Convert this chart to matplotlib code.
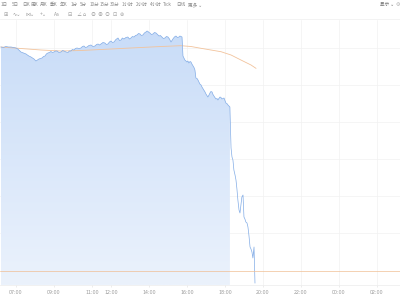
"""
Intraday price chart with toolbar strip, gradient area fill and average line.
"""
import numpy as np
import matplotlib
matplotlib.use('Agg')
import matplotlib.pyplot as plt
from matplotlib.colors import LinearSegmentedColormap

# === Colors ===
LINE_BLUE = '#82ace6'
FILL_TOP = '#c8dcf8'
FILL_BOT = '#ebf2fc'
AVG_ORANGE = '#f2c39c'
REF_ORANGE = '#f0bf94'
GRID = '#f2f2f2'
LABEL_GREY = '#9a9a9a'
CJK = ['Noto Sans CJK SC', 'DejaVu Sans']

# === Data: main session (hours, price) ===
session_t = [6.21, 6.34, 6.47, 6.60, 6.74, 6.87, 7.00, 7.10, 7.18, 7.26,
             7.40, 7.53, 7.60, 7.68, 7.79, 7.87, 7.95, 8.05, 8.13, 8.21,
             8.29, 8.37, 8.45, 8.53, 8.60, 8.68, 8.76, 8.84, 8.92, 9.00,
             9.08, 9.16, 9.26, 9.37, 9.45, 9.53, 9.63, 9.74, 9.81, 9.89,
             9.97, 10.05, 10.13, 10.21, 10.32, 10.42, 10.50, 10.58, 10.66, 10.74,
             10.84, 10.95, 11.05, 11.16, 11.24, 11.32, 11.40, 11.47, 11.58, 11.68,
             11.76, 11.84, 11.92, 12.00, 12.08, 12.16, 12.26, 12.37, 12.45, 12.53,
             12.60, 12.68, 12.79, 12.89, 12.97, 13.05, 13.13, 13.21, 13.29, 13.37,
             13.45, 13.53, 13.60, 13.68, 13.76, 13.84, 13.90, 13.95, 14.00, 14.05,
             14.13, 14.21, 14.29, 14.37, 14.45, 14.53, 14.60, 14.68, 14.76, 14.84,
             14.92, 15.00, 15.08, 15.16, 15.21, 15.26, 15.34, 15.42, 15.50, 15.58,
             15.63, 15.68, 15.74, 15.79, 15.84, 15.89, 15.95, 16.00, 16.05, 16.10,
             16.16, 16.21, 16.26, 16.32, 16.37, 16.42, 16.47, 16.53, 16.58, 16.63,
             16.68, 16.74, 16.79, 16.84, 16.89, 16.95, 17.00, 17.05, 17.10, 17.16,
             17.21, 17.26, 17.32, 17.37, 17.42, 17.47, 17.53, 17.58, 17.63, 17.68,
             17.74, 17.79, 17.84, 17.89, 17.95, 18.00, 18.05, 18.10, 18.16, 18.21,
             18.26]
session_p = [238, 237.5, 238.5, 238, 238, 237.5, 237, 236, 234.5, 233,
             232, 231, 230, 229, 228, 227, 226, 224, 225, 226,
             226.5, 227, 228.5, 229, 231, 232, 232.5, 233.5, 232.5, 233,
             234, 234, 232.5, 233, 234.5, 234, 233, 232.5, 234, 234,
             235.5, 235, 236.5, 237, 236.5, 237, 238.5, 239, 237.5, 238,
             239.5, 240, 238.5, 239, 240.5, 241, 240, 241, 242.5, 242,
             240.5, 241, 243, 244, 242.5, 243, 245.5, 247, 244.5, 245,
             247, 246, 247.5, 248, 246, 247, 248.5, 248, 249.5, 250,
             251.5, 251, 249.5, 250, 252, 253, 254, 253.5, 252.5, 252,
             250.5, 251, 252.5, 252, 250.5, 249, 249.5, 248, 246.5, 247,
             248.5, 248, 246, 243, 244.5, 246, 248, 249, 247.5, 248,
             249, 248.5, 248, 229, 227, 225, 224, 223, 224, 222,
             223.5, 223, 221, 219, 217.5, 215, 207, 206.5, 205, 203,
             201, 200, 198, 196.5, 195, 193, 191, 189.5, 188, 190,
             192, 193.5, 193, 190.5, 189, 187.5, 186, 186.5, 185, 186.5,
             188, 187.5, 186, 186.5, 187, 184.5, 182, 181.5, 180, 179,
             178]

# === Data: extended hours (line only) ===
ext_t = [18.32, 18.37, 18.42, 18.47, 18.53, 18.58, 18.63, 18.68, 18.74, 18.79,
         18.84, 18.89, 18.95, 19.00, 19.05, 19.10, 19.16, 19.21, 19.26, 19.32,
         19.37, 19.42, 19.47, 19.53, 19.58]
ext_p = [137, 128, 125, 115, 110, 105, 96, 85, 75, 72,
         80, 88, 90, 68, 66, 63, 62, 58, 50, 38,
         36, 33, 27, 38, 2]

# === Average line ===
avg_t = [6.21, 7.26, 8.32, 9.37, 10.42, 11.47, 12.53, 13.58, 14.63, 15.68,
         16.21, 16.74, 17.26, 17.79, 18.32, 18.84, 19.37, 19.63]
avg_p = [238, 236.5, 235, 234, 234.5, 235.5, 236.5, 237.5, 238.5, 239.3,
         238.5, 236.7, 235, 233.3, 230, 225, 220, 216.7]

ref_level = 14.3

tick_hours = [7, 9, 11, 12, 14, 16, 18, 20, 22, 24, 26]
tick_labels = ['07:00', '09:00', '11:00', '12:00', '14:00', '16:00',
               '18:00', '20:00', '22:00', '00:00', '02:00']

periods = ['1日', '5日', '日K', '周K', '月K', '季K', '年K', '1分', '5分', '10分',
           '15分', '30分', '1小时', '2小时', '4小时', 'Tick', '日线', '更多 ⌄']
period_x = [1, 12, 22, 31, 40, 50, 60, 71, 80, 90,
            100, 110, 122, 136, 150, 163, 176, 188]
tools = ['⊞', '∿⌄', '⋈⌄', '+⌄', 'Aa', '⊟', '∠', '⌂', '⊖', '⊕', '⊙', '⊡', '⊚']
tool_x = [4, 12, 26, 40, 54, 67, 76, 83, 90, 97, 104, 112, 120]

# ════════════════════════════════════════════
fig = plt.figure(figsize=(4, 3), dpi=100, facecolor='white')
ax = fig.add_axes([0, 15 / 300, 1, 265 / 300])
ax.set_xlim(6.16, 6.16 + 400 / 19)
ax.set_ylim(0, 265)

# gridlines
for h in tick_hours:
    ax.axvline(h, color=GRID, lw=0.5, zorder=0)
for yv in np.arange(52, 265, 37):
    ax.axhline(yv, color=GRID, lw=0.5, zorder=0)

# gradient fill under main session
poly = ax.fill_between(session_t, session_p, 0, color='none', lw=0)
cmap = LinearSegmentedColormap.from_list('fade', [FILL_BOT, FILL_TOP])
grad = np.linspace(0, 1, 256).reshape(-1, 1)
im = ax.imshow(grad, cmap=cmap, aspect='auto', origin='lower',
               extent=[session_t[0], session_t[-1], 0, 260], zorder=1)
im.set_clip_path(poly.get_paths()[0], transform=ax.transData)

# price line
ax.plot(session_t + ext_t, session_p + ext_p, color=LINE_BLUE, lw=0.5, zorder=3)
# average line
ax.plot(avg_t, avg_p, color=AVG_ORANGE, lw=0.6, zorder=2)
# reference level
ax.axhline(ref_level, color=REF_ORANGE, lw=0.5, zorder=4)

ax.set_xticks(tick_hours)
ax.set_xticklabels(tick_labels, fontsize=3.4, color=LABEL_GREY)
ax.tick_params(axis='x', length=1.5, width=0.4, color='#dddddd', pad=2)
ax.set_yticks([])
for s in ['top', 'right', 'left']:
    ax.spines[s].set_visible(False)
ax.spines['bottom'].set_color('#ececec')
ax.spines['bottom'].set_linewidth(0.5)

# toolbar
for lab, x in zip(periods, period_x):
    fig.text(x / 400, 1 - 4.5 / 300, lab, fontsize=3.3, color='#8a8a8a',
             family=CJK, ha='left', va='center')
for lab, x in zip(tools, tool_x):
    fig.text(x / 400, 1 - 14 / 300, lab, fontsize=3.6, color='#9a9a9a',
             family=CJK, ha='left', va='center')
fig.text(380 / 400, 1 - 4.5 / 300, '显示 ⌄', fontsize=3.3, color='#7a7a7a',
         family=CJK, ha='left', va='center')
fig.text(396 / 400, 1 - 4.5 / 300, '⚙', fontsize=3.6, color='#aaaaaa',
         family=CJK, ha='left', va='center')
fig.add_artist(plt.Line2D([0, 1], [1 - 18.5 / 300] * 2, color='#eeeeee', lw=0.5))

plt.savefig('out.png', dpi=100, facecolor='white')
plt.close()
